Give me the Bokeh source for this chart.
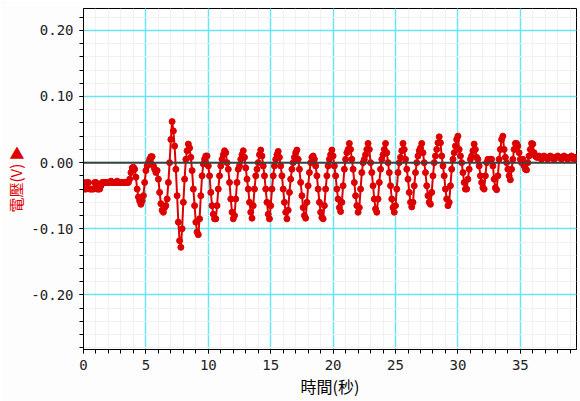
import numpy as np
from bokeh.plotting import figure
from bokeh.models import FixedTicker, PrintfTickFormatter, Span, ColumnDataSource, Range1d
from bokeh.embed import file_html
from bokeh.resources import INLINE

# Voltage samples (V), one every 0.1 s
voltage = [
    -0.030, -0.040, -0.040, -0.030, -0.030, -0.040, -0.040, -0.040, -0.040, -0.030,  # 0 s
    -0.030, -0.040, -0.040, -0.040, -0.035, -0.030, -0.030, -0.030, -0.030, -0.030,  # 1 s
    -0.030, -0.030, -0.028, -0.030, -0.030, -0.030, -0.030, -0.028, -0.030, -0.030,  # 2 s
    -0.030, -0.030, -0.030, -0.030, -0.030, -0.030, -0.030, -0.025, -0.015, -0.008,  # 3 s
    -0.007, -0.010, -0.022, -0.040, -0.052, -0.058, -0.063, -0.058, -0.050, -0.030,  # 4 s
    -0.012, -0.005, 0.000, 0.005, 0.009, 0.009, -0.005, -0.010, -0.015, -0.012,      # 5 s
    -0.025, -0.045, -0.062, -0.072, -0.075, -0.068, -0.065, -0.055, -0.030, 0.000,   # 6 s
    0.035, 0.062, 0.048, 0.025, -0.010, -0.050, -0.090, -0.118, -0.128, -0.100,      # 7 s
    -0.060, -0.025, 0.005, 0.018, 0.028, 0.022, 0.008, -0.012, -0.040, -0.065,       # 8 s
    -0.090, -0.105, -0.109, -0.085, -0.050, -0.020, -0.002, 0.005, 0.010, 0.010,     # 9 s
    -0.005, -0.020, -0.045, -0.065, -0.078, -0.085, -0.085, -0.065, -0.040, -0.020,  # 10 s
    -0.005, 0.005, 0.012, 0.018, 0.015, 0.000, -0.010, -0.030, -0.055, -0.075,      # 11 s
    -0.085, -0.080, -0.055, -0.030, -0.010, -0.005, 0.005, 0.012, 0.018, 0.008,      # 12 s
    -0.008, -0.025, -0.040, -0.060, -0.075, -0.084, -0.065, -0.040, -0.020, -0.010,  # 13 s
    0.000, 0.012, 0.019, 0.010, -0.005, -0.020, -0.040, -0.060, -0.078, -0.085,      # 14 s
    -0.065, -0.040, -0.020, -0.005, 0.005, 0.012, 0.017, 0.008, -0.005, -0.020,      # 15 s
    -0.040, -0.060, -0.075, -0.085, -0.072, -0.045, -0.025, -0.010, 0.000, 0.008,    # 16 s
    0.015, 0.019, 0.005, -0.010, -0.030, -0.050, -0.068, -0.080, -0.084, -0.060,     # 17 s
    -0.035, -0.015, 0.000, 0.008, 0.010, 0.005, -0.005, -0.020, -0.040, -0.060,      # 18 s
    -0.075, -0.083, -0.085, -0.065, -0.040, -0.020, -0.005, 0.005, 0.012, 0.019,     # 19 s
    0.010, -0.005, -0.020, -0.040, -0.055, -0.068, -0.074, -0.060, -0.035, -0.010,   # 20 s
    0.005, 0.015, 0.020, 0.029, 0.020, 0.005, -0.010, -0.030, -0.050, -0.065,        # 21 s
    -0.075, -0.068, -0.040, -0.015, 0.000, 0.005, 0.012, 0.020, 0.029, 0.020,        # 22 s
    0.000, -0.015, -0.035, -0.055, -0.070, -0.075, -0.055, -0.030, -0.010, 0.005,    # 23 s
    0.012, 0.020, 0.029, 0.015, 0.000, -0.015, -0.035, -0.055, -0.068, -0.075,       # 24 s
    -0.065, -0.040, -0.015, 0.000, 0.008, 0.018, 0.029, 0.020, 0.005, -0.010,        # 25 s
    -0.025, -0.045, -0.060, -0.067, -0.060, -0.035, -0.015, 0.000, 0.010, 0.018,     # 26 s
    0.022, 0.029, 0.015, 0.000, -0.015, -0.035, -0.050, -0.060, -0.063, -0.045,      # 27 s
    -0.020, 0.000, 0.010, 0.020, 0.030, 0.039, 0.030, 0.010, -0.005, -0.020,         # 28 s
    -0.040, -0.055, -0.065, -0.060, -0.035, -0.010, 0.005, 0.015, 0.025, 0.035,      # 29 s
    0.040, 0.020, 0.010, 0.000, -0.015, -0.030, -0.040, -0.040, -0.025, -0.010,      # 30 s
    0.005, 0.010, 0.018, 0.028, 0.020, 0.008, 0.005, -0.005, -0.020, -0.030,         # 31 s
    -0.038, -0.040, -0.020, 0.000, 0.005, 0.005, 0.005, 0.005, -0.005, -0.025,       # 32 s
    -0.038, -0.041, -0.020, 0.005, 0.020, 0.035, 0.040, 0.020, 0.008, 0.000,         # 33 s
    -0.010, -0.020, -0.026, -0.010, 0.005, 0.020, 0.029, 0.029, 0.025, 0.015,        # 34 s
    0.005, 0.000, 0.005, -0.005, -0.010, -0.011, 0.000, 0.010, 0.020, 0.029,         # 35 s
    0.028, 0.015, 0.010, 0.008, 0.008, 0.010, 0.008, 0.005, 0.008, 0.010,            # 36 s
    0.008, 0.008, 0.005, 0.008, 0.010, 0.008, 0.008, 0.005, 0.008, 0.008,            # 37 s
    0.010, 0.008, 0.008, 0.005, 0.008, 0.010, 0.008, 0.008, 0.005, 0.008,            # 38 s
    0.008, 0.010, 0.008, 0.005, 0.008, 0.008,                                        # 39 s
]
sample_interval_s = 0.1
time_s = [round(i * sample_interval_s, 1) for i in range(len(voltage))]

x_major_ticks = [0, 5, 10, 15, 20, 25, 30, 35]
x_minor_ticks = list(range(0, 40))
y_major_ticks = [-0.20, -0.10, 0.00, 0.10, 0.20]
y_minor_ticks = [round(-0.28 + 0.02 * i, 2) for i in range(26)]

x_label = "時間(秒)"
y_label = "電壓(V) ▶"

RED = "#dd0000"
CYAN = "#6ae4f0"

src = ColumnDataSource(data=dict(t=time_s, v=voltage))

p = figure(width=580, height=401, output_backend="svg", toolbar_location=None,
           x_range=Range1d(0, 39.5), y_range=Range1d(-0.2825, 0.233),
           min_border_left=83, min_border_right=4, min_border_top=8, min_border_bottom=52)

p.background_fill_color = "white"
p.border_fill_color = "#fdfdfd"
p.outline_line_color = "black"
p.outline_line_width = 1

xt = FixedTicker(ticks=x_major_ticks, minor_ticks=x_minor_ticks)
yt = FixedTicker(ticks=y_major_ticks, minor_ticks=y_minor_ticks)
p.xaxis.ticker = xt
p.yaxis.ticker = yt
p.xgrid.ticker = xt
p.ygrid.ticker = yt

for g in (p.xgrid, p.ygrid):
    g.grid_line_color = CYAN
    g.grid_line_width = 1.5
    g.minor_grid_line_color = "#f1f1f1"
    g.minor_grid_line_width = 1

p.yaxis.formatter = PrintfTickFormatter(format="%.2f")

for ax in (p.xaxis, p.yaxis):
    ax.axis_line_color = "black"
    ax.axis_line_width = 1
    ax.major_tick_line_color = "black"
    ax.minor_tick_line_color = "black"
    ax.major_tick_in = 0
    ax.major_tick_out = 4
    ax.minor_tick_in = 0
    ax.minor_tick_out = 4
    ax.major_label_text_font = "DejaVu Sans Mono"
    ax.major_label_text_font_size = "14px"
    ax.major_label_text_color = "#222222"
    ax.major_label_standoff = 6
    ax.axis_label_text_font = "Noto Sans CJK TC"
    ax.axis_label_text_font_style = "normal"
    ax.axis_label_text_font_size = "16px"

p.xaxis.axis_label = x_label
p.xaxis.axis_label_text_color = "black"
p.xaxis.axis_label_standoff = 1
p.yaxis.axis_label = y_label
p.yaxis.axis_label_text_color = RED
p.yaxis.axis_label_text_font_size = "15px"
p.yaxis.axis_label_standoff = 2

zero = Span(location=0, dimension="width", line_color="#404040", line_width=2)
p.add_layout(zero)

p.line("t", "v", source=src, line_color=RED, line_width=2)
p.scatter("t", "v", source=src, marker="circle", size=6, fill_color=RED, line_color=RED)

open("out.html", "w").write(file_html(p, INLINE))
